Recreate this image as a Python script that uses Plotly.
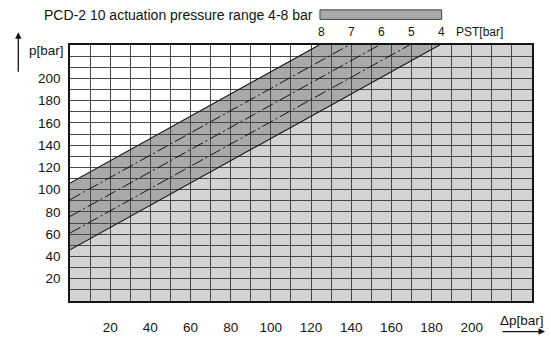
import plotly.graph_objects as go

# ---- data ----
pst_values = [4, 5, 6, 7, 8]             # PST [bar]
p_at_zero_dp = [46, 61, 76, 91, 106]     # p [bar] where each PST line meets Δp = 0
line_slope = 1.0                          # p rises 1 bar per bar of Δp
x_tick_labels = [20, 40, 60, 80, 100, 120, 140, 160, 180, 200]
y_tick_labels = [20, 40, 60, 80, 100, 120, 140, 160, 180, 200]
axis_max = 230
title_text = "PCD-2 10 actuation pressure range 4-8 bar"

FONT = "Liberation Sans, Arial, sans-serif"
INK = "#151515"
BAND = "#a9a9a9"
LIGHT = "#d3d3d3"


def dp_at_top(b):
    return (axis_max - b) / line_slope


fig = go.Figure()

lo, hi = p_at_zero_dp[0], p_at_zero_dp[-1]
# light region under the PST=4 line
light_path = (f"M 0,0 L 0,{lo} L {dp_at_top(lo)},{axis_max} "
              f"L {axis_max},{axis_max} L {axis_max},0 Z")
# dark band between PST=4 and PST=8
band_path = (f"M 0,{lo} L 0,{hi} L {dp_at_top(hi)},{axis_max} "
             f"L {dp_at_top(lo)},{axis_max} Z")
fig.add_shape(type="path", path=light_path, xref="x", yref="y",
              fillcolor=LIGHT, line=dict(width=0), layer="below")
fig.add_shape(type="path", path=band_path, xref="x", yref="y",
              fillcolor=BAND, line=dict(width=0), layer="below")

for pst, b in zip(pst_values, p_at_zero_dp):
    edge = pst in (pst_values[0], pst_values[-1])
    x_end = dp_at_top(b)
    fig.add_trace(go.Scatter(
        x=[0, x_end], y=[b, b + line_slope * x_end], mode="lines",
        line=dict(color=INK, width=1.1 if edge else 1,
                  dash="solid" if edge else "12px,3px,2px,3px"),
        hoverinfo="skip", showlegend=False))
    fig.add_annotation(x=x_end + 1, y=1, xref="x", yref="paper",
                       text=str(pst), showarrow=False, yanchor="bottom",
                       yshift=4, font=dict(family=FONT, size=12, color=INK))

fig.add_annotation(x=191, y=1, xref="x", yref="paper", text="PST[bar]",
                   showarrow=False, xanchor="left", yanchor="bottom", yshift=4,
                   font=dict(family=FONT, size=12, color=INK))

# title + legend swatch
fig.add_annotation(x=-0.0606, y=1.1155, xref="paper", yref="paper",
                   text=title_text, showarrow=False, xanchor="left",
                   yanchor="middle", font=dict(family=FONT, size=14, color=INK))
fig.add_shape(type="rect", xref="paper", yref="paper",
              x0=0.541, x1=0.8045, y0=1.1, y1=1.1373,
              fillcolor=BAND, line=dict(color="#444", width=1))

# axis labels
fig.add_annotation(x=0, y=225, xref="paper", yref="y", text="p[bar]",
                   showarrow=False, xanchor="right", xshift=-4,
                   font=dict(family=FONT, size=13.5, color=INK))
fig.add_annotation(x=225, y=0, xref="x", yref="paper", text="Δp[bar]",
                   showarrow=False, yanchor="top", yshift=-10,
                   font=dict(family=FONT, size=13.5, color=INK))

# arrows
fig.add_annotation(x=-0.1119, y=1.0496, xref="paper", yref="paper", text="",
                   showarrow=True, ax=0, ay=41, arrowhead=2, arrowsize=1,
                   arrowwidth=1.3, arrowcolor=INK)
fig.add_annotation(x=1.0281, y=-0.1194, xref="paper", yref="paper", text="",
                   showarrow=True, ax=-44, ay=0, arrowhead=2, arrowsize=1,
                   arrowwidth=1.3, arrowcolor=INK)

axis_common = dict(
    range=[0, axis_max], showgrid=True, gridcolor="#474747", gridwidth=1,
    minor=dict(dtick=10, showgrid=True, gridcolor="#474747", gridwidth=1),
    showline=True, linecolor=INK, linewidth=1.5, mirror=True,
    zeroline=False, ticks="", tickfont=dict(family=FONT, size=13.5, color=INK),
    fixedrange=True,
)
fig.update_xaxes(**axis_common, tickmode="array", tickvals=x_tick_labels,
                 ticktext=[str(v) for v in x_tick_labels], ticklabelstandoff=13)
fig.update_yaxes(**axis_common, tickmode="array", tickvals=y_tick_labels,
                 ticktext=[str(v) for v in y_tick_labels], ticklabelstandoff=5)

fig.update_layout(
    width=551, height=347,
    margin=dict(l=70, r=19, t=45, b=34),
    paper_bgcolor="white", plot_bgcolor="white",
    font=dict(family=FONT, color=INK),
    showlegend=False,
)

fig.write_html("out.html", config={"displayModeBar": False},
               post_script="document.body.style.margin='0';"
                           "document.body.style.overflow='hidden';")
